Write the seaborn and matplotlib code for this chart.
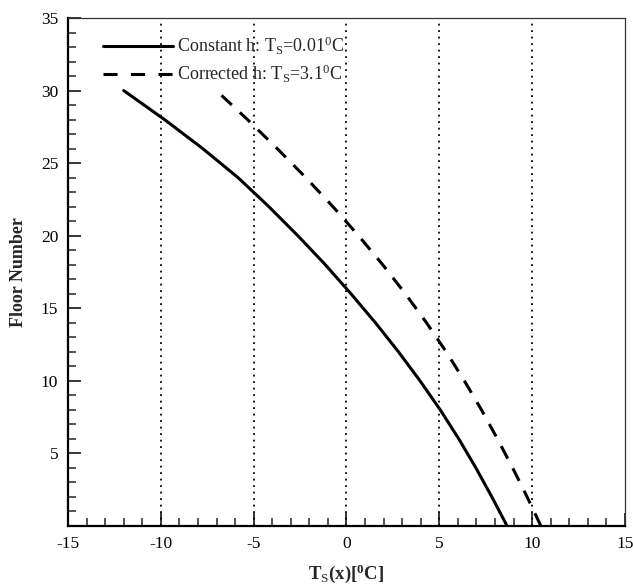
import matplotlib
matplotlib.use("Agg")
import matplotlib.pyplot as plt
from matplotlib.ticker import MultipleLocator
import numpy as np
import pandas as pd
import seaborn as sns

# Surface temperature T_S (deg C) at each floor for the two heat-transfer models
floors = [0, 2, 4, 6, 8, 10, 12, 14, 16, 18, 20, 22, 24, 26, 28, 30]
constant_h_temp = [8.65, 7.83, 6.97, 6.05, 5.05, 3.96, 2.80, 1.56, 0.24, -1.14,
                   -2.62, -4.18, -5.84, -7.74, -9.80, -12.0]
corrected_h_temp = [10.47, 9.73, 8.95, 8.13, 7.27, 6.35, 5.37, 4.31, 3.17, 1.95,
                    0.65, -0.73, -2.19, -3.73, -5.33, -7.01]

series_labels = [r"Constant h: T$_\mathrm{S}$=0.01$^\mathrm{0}$C",
                 r"Corrected h: T$_\mathrm{S}$=3.1$^\mathrm{0}$C"]

x_ticks = [-15, -10, -5, 0, 5, 10, 15]
y_ticks = [5, 10, 15, 20, 25, 30, 35]
grid_temps = [-10, -5, 0, 5, 10]

sns.set_theme(style="ticks")
plt.rcParams["font.family"] = ["Liberation Serif", "DejaVu Serif"]
plt.rcParams["mathtext.fontset"] = "custom"
plt.rcParams["mathtext.rm"] = "Liberation Serif"
plt.rcParams["mathtext.it"] = "Liberation Serif:italic"
plt.rcParams["mathtext.bf"] = "Liberation Serif:bold"
plt.rcParams["axes.unicode_minus"] = False

fig = plt.figure(figsize=(6.33, 5.85), dpi=100)
ax = fig.add_axes([68 / 633, 1 - 526 / 585, (625 - 68) / 633, (526 - 18) / 585])

df_const = pd.DataFrame({"temp": constant_h_temp, "floor": floors})
df_corr = pd.DataFrame({"temp": corrected_h_temp, "floor": floors})

for t in grid_temps:
    ax.axvline(t, color="black", lw=1.3, ls=(0, (1, 2.6)), zorder=1)

sns.lineplot(data=df_const, x="temp", y="floor", ax=ax, color="black",
             lw=2.2, estimator=None, sort=False, label=series_labels[0], zorder=3)
sns.lineplot(data=df_corr, x="temp", y="floor", ax=ax, color="black",
             lw=2.2, estimator=None, sort=False, label=series_labels[1], zorder=3)
ax.lines[-1].set_dashes((4.6, 3.6))
ax.lines[-1].set_dash_capstyle("butt")

ax.set_xlim(-15, 15)
ax.set_ylim(0, 35)
ax.set_xticks(x_ticks)
ax.set_yticks(y_ticks)
ax.xaxis.set_minor_locator(MultipleLocator(1))
ax.yaxis.set_minor_locator(MultipleLocator(1))
ax.tick_params(which="major", direction="in", length=9.5, width=1.1,
               labelsize=12.5, colors="black", top=False, right=False, pad=7)
ax.tick_params(which="minor", direction="in", length=5.5, width=1.1,
               top=False, right=False)

for side in ("left", "bottom"):
    ax.spines[side].set_linewidth(1.6)
    ax.spines[side].set_color("black")
for side in ("top", "right"):
    ax.spines[side].set_linewidth(0.9)
    ax.spines[side].set_color("#333333")

ax.set_xlabel(r"$\mathbf{T}_\mathrm{S}\mathbf{(x)[}^\mathbf{0}\mathbf{C]}$",
              fontsize=13.5, labelpad=8)
ax.set_ylabel("Floor Number", fontsize=13, fontweight="bold", labelpad=10)

leg = ax.legend(loc="upper left", bbox_to_anchor=(0.062, 0.967), frameon=False,
                fontsize=13, handlelength=3.9, handletextpad=0.2,
                labelspacing=0.32, borderpad=0, borderaxespad=0)
for h in leg.get_lines():
    h.set_linewidth(2.2)
leg.get_lines()[1].set_dashes((4.6, 4.4))

fig.savefig("out.png", dpi=100)
